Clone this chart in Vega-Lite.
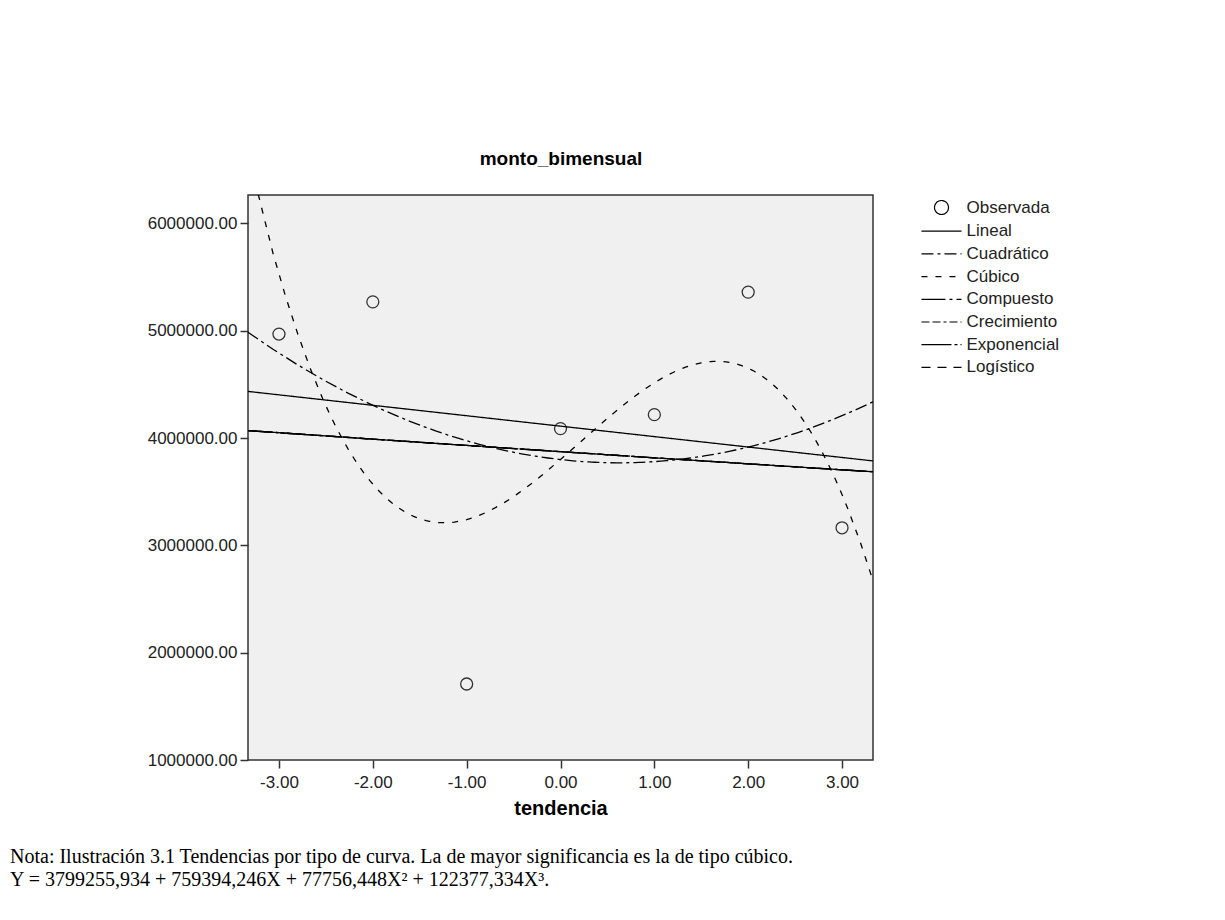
{
  "$schema": "https://vega.github.io/schema/vega-lite/v6.json",
  "width": 625,
  "height": 565,
  "autosize": {"type": "none"},
  "padding": {"left": 248, "top": 195, "right": 352, "bottom": 160},
  "background": "white",
  "datasets": {
    "observada": [
      {"tendencia": -3, "monto": 4968160},
      {"tendencia": -2, "monto": 5268400},
      {"tendencia": -1, "monto": 1707880},
      {"tendencia": 0, "monto": 4087360},
      {"tendencia": 1, "monto": 4217590},
      {"tendencia": 2, "monto": 5359320},
      {"tendencia": 3, "monto": 3163310}
    ],
    "exponenciales": [
      {"curva": "Compuesto", "tendencia": -3.33, "monto": 4069100},
      {"curva": "Compuesto", "tendencia": -3, "monto": 4049200},
      {"curva": "Compuesto", "tendencia": -2, "monto": 3989500},
      {"curva": "Compuesto", "tendencia": -1, "monto": 3930700},
      {"curva": "Compuesto", "tendencia": 0, "monto": 3872700},
      {"curva": "Compuesto", "tendencia": 1, "monto": 3815600},
      {"curva": "Compuesto", "tendencia": 2, "monto": 3759300},
      {"curva": "Compuesto", "tendencia": 3, "monto": 3703900},
      {"curva": "Compuesto", "tendencia": 3.33, "monto": 3685800},
      {"curva": "Crecimiento", "tendencia": -3.33, "monto": 4069100},
      {"curva": "Crecimiento", "tendencia": -3, "monto": 4049200},
      {"curva": "Crecimiento", "tendencia": -2, "monto": 3989500},
      {"curva": "Crecimiento", "tendencia": -1, "monto": 3930700},
      {"curva": "Crecimiento", "tendencia": 0, "monto": 3872700},
      {"curva": "Crecimiento", "tendencia": 1, "monto": 3815600},
      {"curva": "Crecimiento", "tendencia": 2, "monto": 3759300},
      {"curva": "Crecimiento", "tendencia": 3, "monto": 3703900},
      {"curva": "Crecimiento", "tendencia": 3.33, "monto": 3685800},
      {"curva": "Exponencial", "tendencia": -3.33, "monto": 4069100},
      {"curva": "Exponencial", "tendencia": -3, "monto": 4049200},
      {"curva": "Exponencial", "tendencia": -2, "monto": 3989500},
      {"curva": "Exponencial", "tendencia": -1, "monto": 3930700},
      {"curva": "Exponencial", "tendencia": 0, "monto": 3872700},
      {"curva": "Exponencial", "tendencia": 1, "monto": 3815600},
      {"curva": "Exponencial", "tendencia": 2, "monto": 3759300},
      {"curva": "Exponencial", "tendencia": 3, "monto": 3703900},
      {"curva": "Exponencial", "tendencia": 3.33, "monto": 3685800},
      {"curva": "Logístico", "tendencia": -3.33, "monto": 4069100},
      {"curva": "Logístico", "tendencia": -3, "monto": 4049200},
      {"curva": "Logístico", "tendencia": -2, "monto": 3989500},
      {"curva": "Logístico", "tendencia": -1, "monto": 3930700},
      {"curva": "Logístico", "tendencia": 0, "monto": 3872700},
      {"curva": "Logístico", "tendencia": 1, "monto": 3815600},
      {"curva": "Logístico", "tendencia": 2, "monto": 3759300},
      {"curva": "Logístico", "tendencia": 3, "monto": 3703900},
      {"curva": "Logístico", "tendencia": 3.33, "monto": 3685800}
    ]
  },
  "title": {
    "text": [
      "Nota: Ilustración 3.1 Tendencias por tipo de curva. La de mayor significancia es la de tipo cúbico.",
      "Y = 3799255,934 + 759394,246X + 77756,448X² + 122377,334X³."
    ],
    "orient": "bottom",
    "anchor": "start",
    "frame": "group",
    "dx": -238,
    "offset": 29,
    "font": "Liberation Serif",
    "fontSize": 20,
    "fontWeight": "normal",
    "color": "black",
    "lineHeight": 23
  },
  "config": {
    "font": "Liberation Sans",
    "view": {"fill": "#F0F0F0", "stroke": "#333333", "strokeWidth": 1.5},
    "axis": {
      "labelFont": "Liberation Sans",
      "labelFontSize": 17,
      "labelColor": "#222222",
      "tickColor": "#333333",
      "tickWidth": 1.5,
      "tickSize": 8,
      "domain": false,
      "grid": false,
      "titleFont": "Liberation Sans",
      "titleFontWeight": "bold",
      "titleColor": "black"
    },
    "legend": {
      "orient": "right",
      "offset": 55.5,
      "padding": 4,
      "labelFont": "Liberation Sans",
      "labelFontSize": 17,
      "labelColor": "#222222",
      "symbolSize": 196,
      "symbolStrokeWidth": 1.2,
      "symbolStrokeColor": "black",
      "symbolFillColor": "transparent",
      "rowPadding": 4.7,
      "labelOffset": 16.5,
      "symbolOffset": 0
    }
  },
  "encoding": {
    "y": {
      "field": "monto",
      "type": "quantitative",
      "scale": {"domain": [1000000, 6264000], "nice": false, "zero": false},
      "axis": {
        "values": [1000000, 2000000, 3000000, 4000000, 5000000, 6000000],
        "labelExpr": "format(datum.value, '.2f')",
        "labelPadding": 3,
        "title": null
      }
    }
  },
  "layer": [
    {
      "data": {"name": "observada"},
      "mark": {"type": "point", "filled": false, "size": 144, "stroke": "#333333", "strokeWidth": 1.3, "opacity": 1, "clip": true},
      "encoding": {
        "x": {
          "field": "tendencia",
          "type": "quantitative",
          "scale": {"domain": [-3.33, 3.33], "nice": false, "zero": false},
          "axis": {
            "orient": "bottom",
            "values": [-3, -2, -1, 0, 1, 2, 3],
            "labelExpr": "replace(format(datum.value, '.2f'), '−', '-')",
            "labelPadding": 6,
            "title": "tendencia",
            "titleFontSize": 20,
            "titlePadding": 8
          }
        },
        "shape": {
          "datum": "Observada",
          "scale": {
            "domain": ["Observada", "Lineal", "Cuadrático", "Cúbico", "Compuesto", "Crecimiento", "Exponencial", "Logístico"],
            "range": ["circle", "M-2.86,0L2.86,0", "M-2.86,0L2.86,0", "M-2.86,0L2.86,0", "M-2.86,0L2.86,0", "M-2.86,0L2.86,0", "M-2.86,0L2.86,0", "M-2.86,0L2.86,0"]
          },
          "legend": {"title": null}
        }
      }
    },
    {
      "data": {"name": "observada"},
      "transform": [{"regression": "monto", "on": "tendencia", "method": "linear", "extent": [-3.33, 3.33]}],
      "mark": {"type": "line", "color": "black", "strokeWidth": 1.3, "clip": true},
      "encoding": {
        "x": {
          "field": "tendencia",
          "type": "quantitative",
          "scale": {"domain": [-3.33, 3.33], "nice": false, "zero": false},
          "axis": {
            "orient": "top",
            "title": "monto_bimensual",
            "labels": false,
            "ticks": false,
            "domain": false,
            "titleFontSize": 19,
            "titlePadding": 27
          }
        },
        "strokeDash": {
          "datum": "Lineal",
          "scale": {
            "domain": ["Observada", "Lineal", "Cuadrático", "Cúbico", "Compuesto", "Crecimiento", "Exponencial", "Logístico"],
            "range": [[1, 0], [1, 0], [12, 4, 3, 4], [6, 8], [24, 4, 3, 4], [8, 3, 8, 3, 3, 3], [30, 3, 3, 3], [9, 7]]
          },
          "legend": {"title": null}
        }
      }
    },
    {
      "data": {"name": "observada"},
      "transform": [{"regression": "monto", "on": "tendencia", "method": "quad", "extent": [-3.33, 3.33]}],
      "mark": {"type": "line", "color": "black", "strokeWidth": 1.3, "clip": true},
      "encoding": {
        "x": {"field": "tendencia", "type": "quantitative", "axis": null},
        "strokeDash": {
          "datum": "Cuadrático",
          "scale": {
            "domain": ["Observada", "Lineal", "Cuadrático", "Cúbico", "Compuesto", "Crecimiento", "Exponencial", "Logístico"],
            "range": [[1, 0], [1, 0], [12, 4, 3, 4], [6, 8], [24, 4, 3, 4], [8, 3, 8, 3, 3, 3], [30, 3, 3, 3], [9, 7]]
          },
          "legend": {"title": null}
        }
      }
    },
    {
      "data": {"name": "observada"},
      "transform": [{"regression": "monto", "on": "tendencia", "method": "poly", "order": 3, "extent": [-3.33, 3.33]}],
      "mark": {"type": "line", "color": "black", "strokeWidth": 1.3, "clip": true},
      "encoding": {
        "x": {"field": "tendencia", "type": "quantitative", "axis": null},
        "strokeDash": {
          "datum": "Cúbico",
          "scale": {
            "domain": ["Observada", "Lineal", "Cuadrático", "Cúbico", "Compuesto", "Crecimiento", "Exponencial", "Logístico"],
            "range": [[1, 0], [1, 0], [12, 4, 3, 4], [6, 8], [24, 4, 3, 4], [8, 3, 8, 3, 3, 3], [30, 3, 3, 3], [9, 7]]
          },
          "legend": {"title": null}
        }
      }
    },
    {
      "data": {"name": "exponenciales"},
      "mark": {"type": "line", "color": "black", "strokeWidth": 1.3, "clip": true},
      "encoding": {
        "x": {"field": "tendencia", "type": "quantitative", "axis": null},
        "strokeDash": {
          "field": "curva",
          "type": "nominal",
          "scale": {
            "domain": ["Observada", "Lineal", "Cuadrático", "Cúbico", "Compuesto", "Crecimiento", "Exponencial", "Logístico"],
            "range": [[1, 0], [1, 0], [12, 4, 3, 4], [6, 8], [24, 4, 3, 4], [8, 3, 8, 3, 3, 3], [30, 3, 3, 3], [9, 7]]
          },
          "legend": {"title": null}
        }
      }
    }
  ],
  "resolve": {"axis": {"x": "independent"}}
}
